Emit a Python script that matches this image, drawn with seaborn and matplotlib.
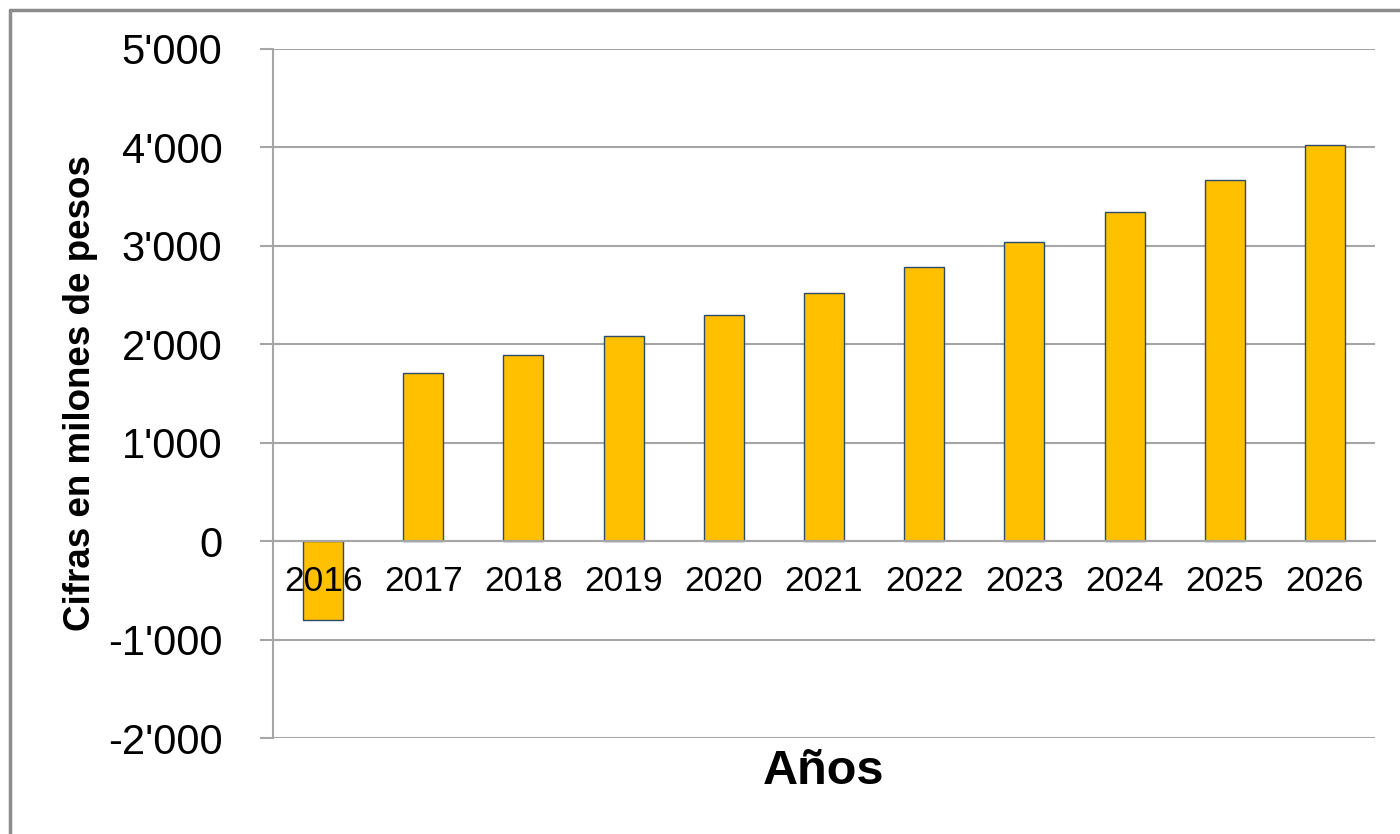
import matplotlib
matplotlib.use("Agg")
import matplotlib.pyplot as plt
from matplotlib.lines import Line2D
from matplotlib.ticker import FuncFormatter, FixedLocator
import seaborn as sns
import pandas as pd

years = ["2016", "2017", "2018", "2019", "2020", "2021",
         "2022", "2023", "2024", "2025", "2026"]
values = [-800, 1710, 1890, 2085, 2295, 2520, 2785, 3040, 3345, 3670, 4025]
y_ticks = [-2000, -1000, 0, 1000, 2000, 3000, 4000, 5000]

sns.set_style("white")
plt.rcParams["font.family"] = ["Liberation Sans", "DejaVu Sans"]

df = pd.DataFrame({"Año": years, "Valor": values})

fig = plt.figure(figsize=(14, 8.34), dpi=100)
ax = fig.add_axes([273 / 1400, 1 - 738 / 834, 1102 / 1400, 689 / 834])

grid_color = "#A6A6A6"

sns.barplot(data=df, x="Año", y="Valor", color="#FFC000", width=0.4,
            edgecolor="#2E4A6B", linewidth=1.0, saturation=1, ax=ax, zorder=3)

ax.set_xlim(-0.5, len(years) - 0.5)
ax.set_ylim(y_ticks[0], y_ticks[-1])
ax.yaxis.set_major_locator(FixedLocator(y_ticks))
ax.yaxis.set_major_formatter(
    FuncFormatter(lambda v, _: f"{int(v):,}".replace(",", "'")))

# horizontal gridlines behind the bars
ax.grid(axis="y", color=grid_color, linewidth=1.5)
ax.grid(axis="x", visible=False)
ax.yaxis.set_zorder(0.5)
# category labels drawn above the bars
ax.xaxis.set_zorder(5)

# spines: left axis line and the category axis sitting at zero
for side in ("top", "right"):
    ax.spines[side].set_visible(False)
ax.spines["left"].set_color(grid_color)
ax.spines["left"].set_linewidth(1.5)
ax.spines["bottom"].set_position(("data", 0))
ax.spines["bottom"].set_color(grid_color)
ax.spines["bottom"].set_linewidth(1.5)
ax.spines["bottom"].set_zorder(4)

# tick marks between categories
ax.set_xticks([i + 0.5 for i in range(len(years))], minor=True)
ax.tick_params(axis="x", which="minor", direction="out", length=10,
               width=1.5, color=grid_color)
ax.tick_params(axis="x", which="major", length=0, pad=17,
               labelsize=25.5, labelcolor="black")
ax.tick_params(axis="y", which="major", direction="out", length=9.5,
               width=1.5, color=grid_color, pad=27, labelsize=30,
               labelcolor="black", left=True)

ax.set_xlabel("Años", fontsize=35, fontweight="bold", color="black")
ax.xaxis.label.set_va("center")
ax.xaxis.set_label_coords(0.5, -0.048)
ax.set_ylabel("Cifras en milones de pesos", fontsize=26.5, fontweight="bold",
              color="black")
ax.yaxis.label.set_va("center")
ax.yaxis.set_label_coords(-0.175, 0.5)

# outer chart frame
frame_x = 10 / 1400
frame_y = 1 - 10 / 834
fig.add_artist(Line2D([frame_x, 1.0], [frame_y, frame_y],
                      transform=fig.transFigure, color="#8C8C8C", linewidth=2.5))
fig.add_artist(Line2D([frame_x, frame_x], [0.0, frame_y],
                      transform=fig.transFigure, color="#8C8C8C", linewidth=2.5))

fig.savefig("out.png", dpi=100, facecolor="white")
